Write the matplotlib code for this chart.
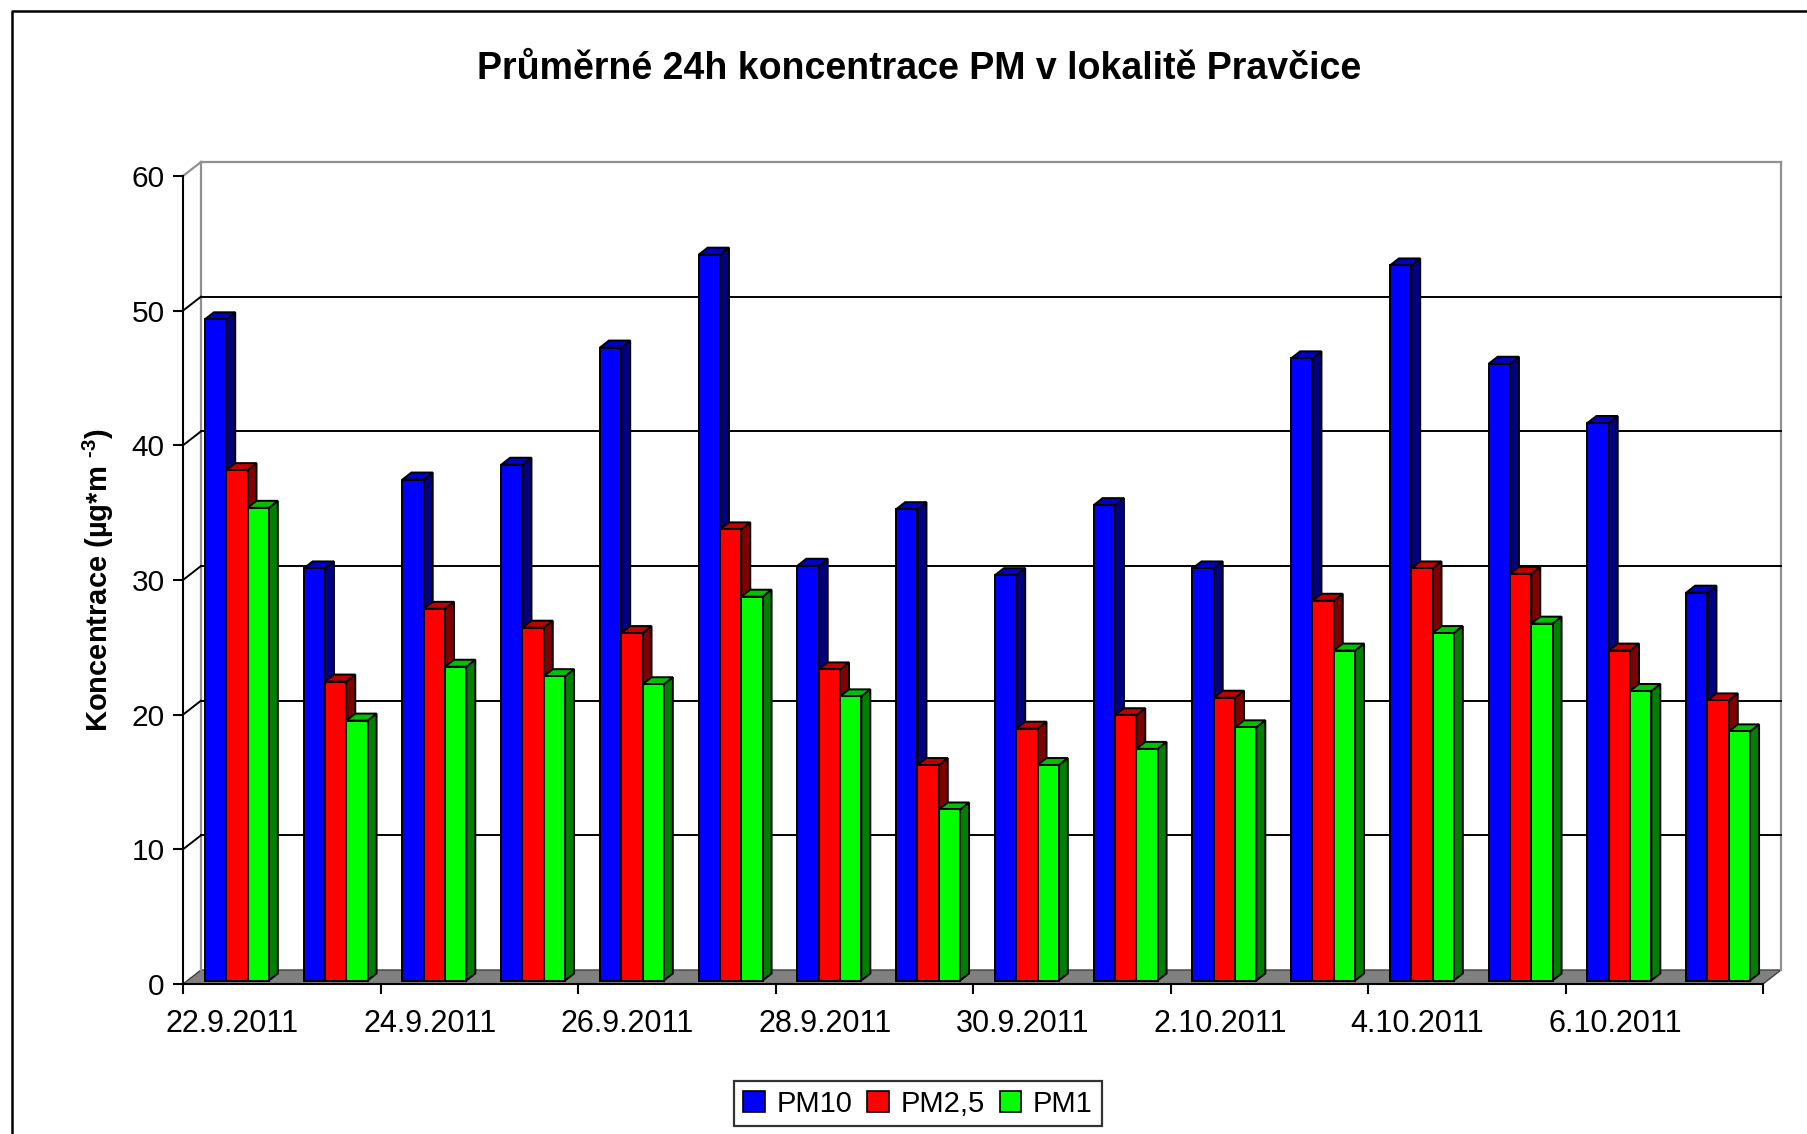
import numpy as np
import matplotlib
matplotlib.use('Agg')
import matplotlib.pyplot as plt
from matplotlib.patches import Polygon, Patch
from matplotlib.lines import Line2D

plt.rcParams['font.family'] = ['Liberation Sans', 'DejaVu Sans']
plt.rcParams['mathtext.fontset'] = 'custom'
plt.rcParams['mathtext.rm'] = 'Liberation Sans:bold'
plt.rcParams['mathtext.it'] = 'Liberation Sans:bold'
plt.rcParams['mathtext.bf'] = 'Liberation Sans:bold'

# data
dates = ['22.9.2011', '23.9.2011', '24.9.2011', '25.9.2011', '26.9.2011', '27.9.2011',
         '28.9.2011', '29.9.2011', '30.9.2011', '1.10.2011', '2.10.2011', '3.10.2011',
         '4.10.2011', '5.10.2011', '6.10.2011', '7.10.2011']
pm10 = [49.1, 30.6, 37.2, 38.3, 47.0, 53.9, 30.8, 35.0, 30.1, 35.3, 30.6, 46.2, 53.1, 45.8, 41.4, 28.8]
pm25 = [37.9, 22.2, 27.6, 26.2, 25.8, 33.5, 23.1, 16.0, 18.7, 19.7, 21.0, 28.2, 30.6, 30.2, 24.5, 20.8]
pm1 = [35.1, 19.3, 23.3, 22.6, 22.0, 28.5, 21.1, 12.7, 16.0, 17.2, 18.8, 24.5, 25.8, 26.5, 21.5, 18.5]
names = ['PM10', 'PM2,5', 'PM1']

front_col = ['#0000FF', '#FF0000', '#00FF00']
side_col = ['#000080', '#800000', '#008000']
top_col = ['#0000C8', '#C00000', '#00C000']

fig = plt.figure(figsize=(18.07, 11.34), dpi=100)
ax = fig.add_axes([183 / 1807, 150 / 1134, 1580 / 1807, 808 / 1134])
ax.set_xlim(0, 16)
ax.set_ylim(0, 60)
ax.patch.set_visible(False)
for s in ['top', 'right']:
    ax.spines[s].set_visible(False)
ax.spines['left'].set_linewidth(1.5)
ax.spines['bottom'].set_linewidth(1.5)
ax.spines['left'].set_zorder(100)
ax.spines['bottom'].set_zorder(100)

n = len(dates)
pxx = 1580 / 16
pxy = 808 / 60
DX = 18 / pxx
DY = 14 / pxy

# floor
floor = Polygon([(0, 0), (16, 0), (16 + DX, DY), (DX, DY)], closed=True,
                facecolor='#808080', edgecolor='#404040', lw=1.0, clip_on=False, zorder=1)
ax.add_patch(floor)

# walls
wall_kw = dict(color='#909090', lw=1.6, clip_on=False, zorder=1.5)
ax.plot([DX, DX], [DY, 60 + DY], **wall_kw)
ax.plot([DX, 16 + DX], [60 + DY, 60 + DY], **wall_kw)
ax.plot([16 + DX, 16 + DX], [DY, 60 + DY], **wall_kw)
ax.plot([0, DX], [60, 60 + DY], **wall_kw)
for v in range(10, 60, 10):
    ax.plot([DX, 16 + DX], [v + DY, v + DY], color='black', lw=1.4, clip_on=False, zorder=1.6)
    ax.plot([0, DX], [v, v + DY], color='black', lw=1.4, clip_on=False, zorder=1.6)

# 3d bars
w = 21.3 / pxx
f, fy = 0.25 * DX, 0.25 * DY
b, by = 0.75 * DX, 0.75 * DY
series = [pm10, pm25, pm1]
z = 5
for i in range(n):
    for j, vals in enumerate(series):
        v = vals[i]
        x0 = i + 0.5 + (j - 1.5) * w
        side = [(x0 + w + f, fy), (x0 + w + b, by), (x0 + w + b, v + by), (x0 + w + f, v + fy)]
        top = [(x0 + f, v + fy), (x0 + w + f, v + fy), (x0 + w + b, v + by), (x0 + b, v + by)]
        front = [(x0 + f, fy), (x0 + w + f, fy), (x0 + w + f, v + fy), (x0 + f, v + fy)]
        for pts, c in [(side, side_col[j]), (top, top_col[j]), (front, front_col[j])]:
            ax.add_patch(Polygon(pts, closed=True, facecolor=c, edgecolor='black',
                                 lw=1.4, joinstyle='miter', clip_on=False, zorder=z))
        z += 1

# ticks
ax.set_yticks(range(0, 61, 10))
ax.tick_params(axis='y', length=7.2, width=1.5, labelsize=21.5, pad=6)
ax.set_xticks(range(0, 17, 2))
ax.set_xticklabels([])
ax.set_xticks(np.arange(0.5, 16, 2), minor=True)
ax.set_xticklabels(dates[::2], minor=True)
ax.tick_params(axis='x', which='major', length=7, width=1.5)
ax.tick_params(axis='x', which='minor', length=0, labelsize=22, pad=18)

# texts
fig.text(919 / 1807, 1 - 69 / 1134, 'Průměrné 24h koncentrace PM v lokalitě Pravčice',
         fontsize=27, fontweight='bold', ha='center', va='center')
fig.text(98 / 1807, 1 - 580 / 1134, r'Koncentrace (µg*m $^{\text{-}3}$)',
         fontsize=21, fontweight='bold', rotation=90, ha='center', va='center')

handles = [Patch(facecolor=c, edgecolor='black', linewidth=1.2) for c in front_col]
leg = fig.legend(handles, names, loc='center', bbox_to_anchor=(918 / 1807, 1 - 1103.5 / 1134),
                 ncol=3, fontsize=21, frameon=True, fancybox=False, edgecolor='black',
                 handlelength=0.75, handleheight=0.75, handletextpad=0.4,
                 columnspacing=0.5, borderpad=0.3, borderaxespad=0)
leg.get_frame().set_linewidth(1.6)

# chart area border
fig.add_artist(Line2D([12 / 1807, 12 / 1807, 1.0], [0, 1 - 11 / 1134, 1 - 11 / 1134],
                      transform=fig.transFigure, color='black', lw=1.8))

fig.savefig('out.png', dpi=100)
